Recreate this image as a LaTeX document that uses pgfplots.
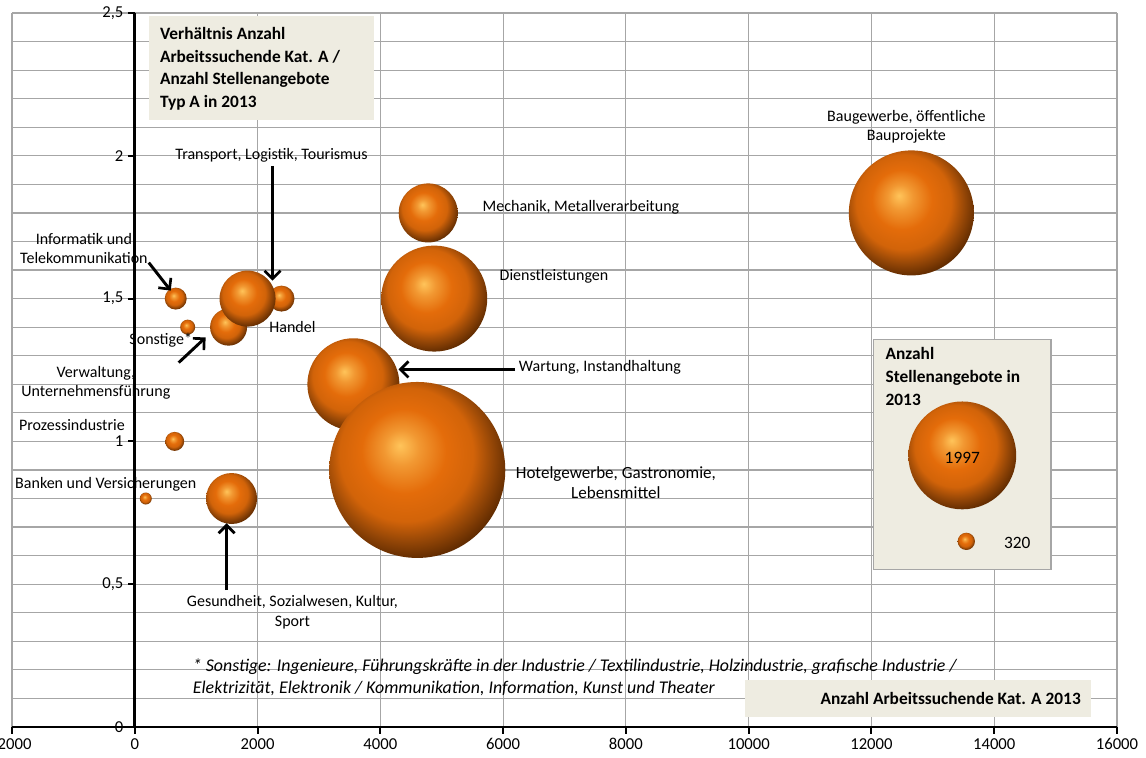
\documentclass[border=0pt]{standalone}
\usepackage{pgfplots}
\pgfplotsset{compat=1.18}
\usepackage{pgfplotstable}
\usepackage{fontspec}
\setmainfont{Carlito}
\usetikzlibrary{arrows.meta}

\definecolor{gridgray}{HTML}{A6A6A6}
\definecolor{boxbg}{HTML}{EEECE1}
\definecolor{ballhi}{HTML}{FFC45A}
\definecolor{ballmain}{HTML}{E46C0A}
\definecolor{balldark}{HTML}{5A2800}
\definecolor{balledge}{HTML}{301400}

\pgfdeclareradialshading{exball}{\pgfpoint{-5bp}{7bp}}{%
  color(0bp)=(ballhi); color(5bp)=(ballhi!50!ballmain); color(12bp)=(ballmain);
  color(19bp)=(ballmain!92!black); color(24bp)=(ballmain!65!black);
  color(29bp)=(balldark); color(34bp)=(balledge); color(50bp)=(balledge)}
\pgfdeclareplotmark{exball}{%
  \pgfpathcircle{\pgfpointorigin}{\pgfplotmarksize}%
  \pgfshadepath{exball}{0}%
  \pgfusepath{}}

% x = Arbeitssuchende Kat. A, y = Verhaeltnis, s = Stellenangebote (bubble width)
\pgfplotstableread{
name        x      y     s
Banken      179    0.80  222
Sonstige    862    1.40  278
Prozess     650    1.00  352
Informatik  667    1.50  407
Transport   2390   1.50  481
Verwaltung  1528   1.40  685
Gesundheit  1577   0.80  944
Handel      1837   1.50  1037
Mechanik    4780   1.80  1093
Wartung     3561   1.20  1704
Dienstl     4878   1.50  1963
Baugewerbe  12650  1.80  2315
Hotel       4602   0.90  3259
}\bubbles

\pgfplotstableread{
x      y      s
13480  0.951  1997
13545  0.650  320
}\legendbubbles

\begin{document}
\begin{tikzpicture}[
  lab/.style={font=\fontsize{12}{14.6}\selectfont, align=center, inner sep=0pt},
  arr/.style={line width=2.2pt, -{Straight Barb[length=6pt,width=12pt,line width=2pt]}},
  bbox/.style={font=\fontsize{13}{17}\selectfont\bfseries, align=left, inner sep=0pt},
]
\begin{axis}[
  set layers,
  scale only axis,
  width=828.75pt, height=535.5pt,
  xmin=-2000, xmax=16000, ymin=0, ymax=2.5,
  axis x line=bottom,
  axis y line=middle,
  axis line style={-, line width=2pt},
  every inner x axis line/.append style={-},
  every inner y axis line/.append style={-},
  every outer x axis line/.append style={-},
  xtick={-2000,0,...,16000},
  ytick={0,0.5,1,1.5,2,2.5},
  minor y tick num=4,
  grid=both,
  major grid style={gridgray, line width=0.9pt},
  minor grid style={gridgray, line width=0.9pt},
  minor tick length=0pt,
  major tick length=5pt,
  tick align=outside,
  tick style={black, line width=1.5pt},
  hide obscured x ticks=false, hide obscured y ticks=false,
  scaled x ticks=false, scaled y ticks=false,
  /pgf/number format/assume math mode=true,
  /pgf/number format/use comma,
  /pgf/number format/1000 sep={},
  tick label style={font=\fontsize{12.5}{14}\selectfont},
  clip=false,
]
\coordinate (O) at (rel axis cs:0,0);

\addplot[scatter, only marks, mark=exball,
  visualization depends on={0.02025*\thisrow{s} \as \rad},
  scatter/@pre marker code/.append style={/tikz/mark size=\rad}]
  table[x=x, y=y] {\bubbles};

\begin{pgfonlayer}{pre main}
% title box
\fill[boxbg] (axis cs:228,2.126) rectangle (axis cs:3902,2.49);
% x title box
\fill[boxbg] (axis cs:9935,0.035) rectangle (axis cs:15577,0.164);
% size legend box
\filldraw[fill=boxbg, draw=gridgray, line width=1.2pt]
  (axis cs:12032,0.552) rectangle (axis cs:14927,1.357);
\end{pgfonlayer}

\addplot[scatter, only marks, mark=exball,
  visualization depends on={0.02025*\thisrow{s} \as \rad},
  scatter/@pre marker code/.append style={/tikz/mark size=\rad}]
  table[x=x, y=y] {\legendbubbles};

\begin{pgfonlayer}{axis foreground}
\node[bbox, anchor=north west] at (axis cs:407,2.451)
  {Verhältnis Anzahl\\Arbeitssuchende Kat. A /\\Anzahl Stellenangebote\\Typ A in 2013};
\node[bbox, anchor=east] at (axis cs:15414,0.101) {Anzahl Arbeitssuchende Kat. A 2013};
\node[bbox, anchor=north west] at (axis cs:12227,1.329) {Anzahl\\Stellenangebote in\\2013};
\node[lab, font=\fontsize{13}{15}\selectfont] at (axis cs:13480,0.944) {1997};
\node[lab, font=\fontsize{13}{15}\selectfont] at (axis cs:14374,0.643) {320};

% labels
\node[lab] at (axis cs:-829,1.675) {Informatik und\\Telekommunikation};
\node[lab] at (axis cs:2228,2.003) {Transport, Logistik, Tourismus};
\node[lab] at (axis cs:423,1.353) {Sonstige*};
\node[lab] at (axis cs:-634,1.206) {Verwaltung,\\Unternehmensführung};
\node[lab] at (axis cs:2569,1.399) {Handel};
\node[lab] at (axis cs:-1024,1.056) {Prozessindustrie};
\node[lab] at (axis cs:-472,0.850) {Banken und Versicherungen};
\node[lab] at (axis cs:2569,0.402) {Gesundheit, Sozialwesen, Kultur,\\Sport};
\node[lab] at (axis cs:7268,1.818) {Mechanik, Metallverarbeitung};
\node[lab] at (axis cs:6829,1.577) {Dienstleistungen};
\node[lab] at (axis cs:7577,1.259) {Wartung, Instandhaltung};
\node[lab, font=\fontsize{12.8}{15}\selectfont] at (axis cs:7837,0.857) {Hotelgewerbe, Gastronomie,\\Lebensmittel};
\node[lab] at (axis cs:12569,2.101) {Baugewerbe, öffentliche\\Bauprojekte};
\node[lab, anchor=north west, align=left, font=\fontsize{13.4}{16.5}\selectfont\itshape]
  at (axis cs:943,0.240)
  {* Sonstige: Ingenieure, Führungskräfte in der Industrie / Textilindustrie, Holzindustrie, grafische Industrie /\\
   Elektrizität, Elektronik / Kommunikation, Information, Kunst und Theater};

% arrows
\draw[arr] (axis cs:228,1.626) -- (axis cs:585,1.528);
\draw[arr] (axis cs:2244,1.965) -- (axis cs:2244,1.563);
\draw[arr] (axis cs:716,1.276) -- (axis cs:1154,1.364);
\draw[arr] (axis cs:1496,0.479) -- (axis cs:1496,0.713);
\draw[arr] (axis cs:6195,1.252) -- (axis cs:4297,1.252);
\end{pgfonlayer}
\end{axis}
\pgfresetboundingbox
\path[use as bounding box] ([shift={(-9pt,-22.5pt)}]O) rectangle ([shift={(850.5pt,545.25pt)}]O);
\end{tikzpicture}
\end{document}
